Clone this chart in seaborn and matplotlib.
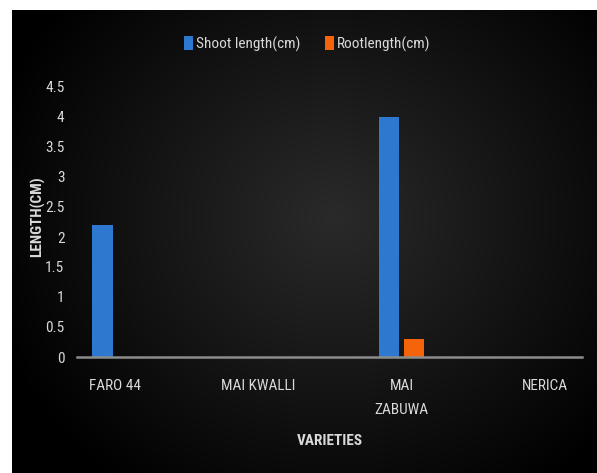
import numpy as np
import pandas as pd
import matplotlib
matplotlib.use("Agg")
import matplotlib.pyplot as plt
import seaborn as sns
from matplotlib import font_manager

varieties = ["FARO 44", "MAI KWALLI", "MAI\nZABUWA", "NERICA"]
shoot_length = [2.2, 0.0, 4.0, 0.0]
root_length = [0.0, 0.0, 0.3, 0.0]
series_names = ["Shoot length(cm)", "Rootlength(cm)"]
y_ticks = [0, 0.5, 1, 1.5, 2, 2.5, 3, 3.5, 4, 4.5]
y_tick_labels = ["0", "0.5", "1", "1.5", "2", "2.5", "3", "3.5", "4", "4.5"]

sns.set_theme(style="dark")
names = {f.name for f in font_manager.fontManager.ttflist}
fam = "DejaVu Sans"
for cand in ["Liberation Sans Narrow", "Roboto Condensed", "Open Sans Condensed", "Noto Sans Condensed"]:
    if cand in names:
        fam = cand
        break
plt.rcParams["font.family"] = [fam, "DejaVu Sans"]
plt.rcParams["font.stretch"] = "condensed"

df = pd.DataFrame({
    "Variety": varieties * 2,
    "Length": shoot_length + root_length,
    "Series": [series_names[0]] * 4 + [series_names[1]] * 4,
})

W, H = 597, 473
fig = plt.figure(figsize=(W / 100, H / 100), dpi=100)
fig.patch.set_facecolor("white")

# dark radial background
bg = fig.add_axes([12 / W, 0, 1 - 12 / W, 1 - 10 / H])
bg.set_axis_off()
gx, gy = np.meshgrid(np.linspace(0, 1, 400), np.linspace(0, 1, 320))
r = np.sqrt(((gx - 0.55) / 0.6) ** 2 + ((gy - 0.45) / 0.7) ** 2)
val = np.clip(0.16 * (1 - r) + 0.005, 0.0, 1)
img = np.dstack([val, val, val])
bg.imshow(img, aspect="auto", extent=(0, 1, 0, 1), interpolation="bilinear")
bg.set_zorder(0)

ax = fig.add_axes([77 / W, 1 - 357 / H, (582 - 77) / W, (357 - 87) / H])
ax.set_zorder(1)
ax.set_facecolor("none")

palette = {series_names[0]: "#2f78d0", series_names[1]: "#f5640a"}
sns.barplot(data=df, x="Variety", y="Length", hue="Series", palette=palette,
            width=0.35, gap=0.18, linewidth=0, saturation=1, ax=ax, legend=True)

ax.set_xlim(-0.265, 3.26)
ax.set_ylim(0, 4.5)
ax.set_yticks(y_ticks)
ax.set_yticklabels(y_tick_labels)
ax.grid(False)
for s in ["top", "right", "left"]:
    ax.spines[s].set_visible(False)
ax.spines["bottom"].set_color("#8c8c8c")
ax.spines["bottom"].set_linewidth(1.8)
ax.tick_params(axis="both", length=0, colors="#d9d9d9", labelsize=11)
ax.tick_params(axis="y", pad=9)
ax.tick_params(axis="x", pad=16)
for lab in ax.get_xticklabels():
    lab.set_linespacing(1.9)

ax.set_xlabel("VARIETIES", color="#d9d9d9", fontsize=11, fontweight="bold")
ax.set_ylabel("LENGTH(CM)", color="#d9d9d9", fontsize=11, fontweight="bold")
ax.xaxis.set_label_coords(0.5, -0.285)
ax.yaxis.set_label_coords(-0.077, 0.52)
ax.yaxis.label.set_verticalalignment("center")

leg = ax.legend(loc="center", bbox_to_anchor=(307 / W, 1 - 44 / H),
                bbox_transform=fig.transFigure, ncol=2, frameon=False,
                handlelength=0.6, handleheight=1.0, handletextpad=0.2,
                columnspacing=1.6, fontsize=11, title=None)
for t in leg.get_texts():
    t.set_color("#d9d9d9")

fig.savefig("out.png", dpi=100, facecolor=fig.get_facecolor())
